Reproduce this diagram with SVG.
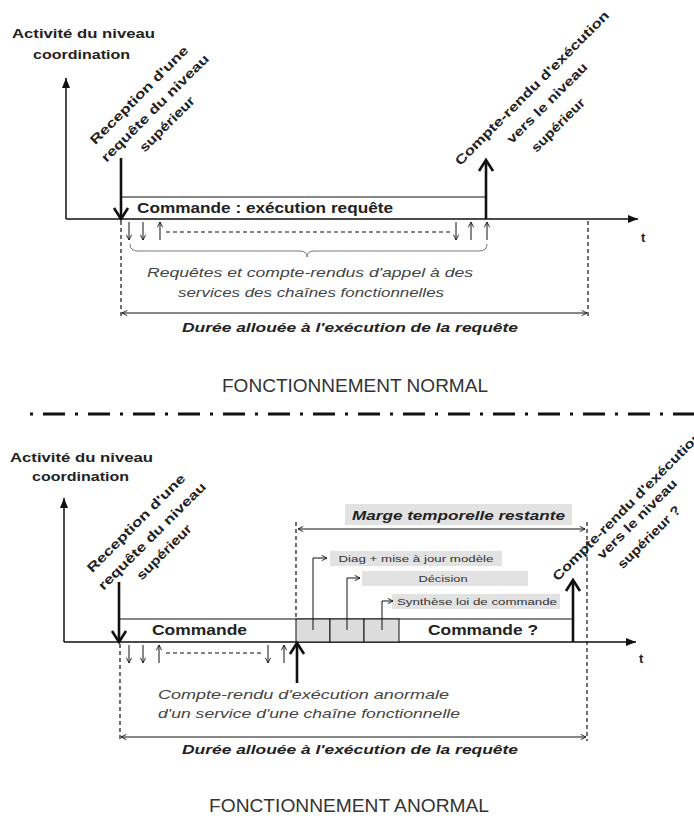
<svg xmlns="http://www.w3.org/2000/svg" width="694" height="816" viewBox="0 0 694 816">
<style>
text{font-family:"Liberation Sans",Arial,sans-serif;fill:#222}
.b{font-weight:bold;font-size:13px}
.cmd{font-weight:bold;font-size:14px}
.it{font-style:italic;font-size:13px;fill:#444}
.bi{font-style:italic;font-weight:bold;font-size:13px}
.title{font-size:18px;fill:#333}
.rot{font-weight:bold;font-size:13px;text-anchor:middle}
.sm{font-size:9px;text-anchor:middle;fill:#333}
.ax{stroke:#111;stroke-width:1.5;fill:none}
.thin{stroke:#111;stroke-width:1;fill:none}
.thick{stroke:#111;stroke-width:2.6;fill:none}
.dash{stroke:#111;stroke-width:1.2;stroke-dasharray:4 3;fill:none}
.box{stroke:#111;stroke-width:1;fill:none}
.cell{stroke:#111;stroke-width:1;fill:#dcdcdc}
.lblbox{fill:#e2e2e2}
</style>
<defs>
<marker id="axh" viewBox="0 0 10 8" refX="10" refY="4" markerWidth="10" markerHeight="8" markerUnits="userSpaceOnUse" orient="auto"><path d="M0,0 L10,4 L0,8 z" fill="#111"/></marker>
<marker id="sh" viewBox="0 0 8 8" refX="7" refY="4" markerWidth="7" markerHeight="7" markerUnits="userSpaceOnUse" orient="auto-start-reverse"><path d="M1,1 L7,4 L1,7" stroke="#111" stroke-width="1" fill="none"/></marker>
</defs>

<!-- ===== TOP: NORMAL ===== -->
<g id="top-axes">
<line class="ax" x1="66" y1="219" x2="66" y2="78" marker-end="url(#axh)"/>
<line class="ax" x1="66" y1="219" x2="638" y2="219" marker-end="url(#axh)"/>
<text class="b" x="641" y="242" font-size="11">t</text>
<text class="b" x="12" y="38" textLength="143" lengthAdjust="spacingAndGlyphs">Activité du niveau</text>
<text class="b" x="33" y="59" textLength="97" lengthAdjust="spacingAndGlyphs">coordination</text>
</g>

<g id="top-command">
<polyline class="box" points="121,197 486,197"/>
<text class="cmd" x="137" y="213" textLength="256" lengthAdjust="spacingAndGlyphs">Commande : exécution requête</text>
</g>

<g id="top-reception">
<line class="thick" x1="121" y1="158" x2="121" y2="217"/>
<path class="thick" d="M114,208 L121,219 L128,208"/>
<text class="rot" transform="translate(139,95) rotate(-45)" y="4.5" textLength="133" lengthAdjust="spacingAndGlyphs">Reception d'une</text>
<text class="rot" transform="translate(155,108) rotate(-45)" y="4.5" textLength="146" lengthAdjust="spacingAndGlyphs">requête du niveau</text>
<text class="rot" transform="translate(167,124) rotate(-45)" y="4.5" textLength="72" lengthAdjust="spacingAndGlyphs">supérieur</text>
</g>

<g id="top-report">
<line class="thick" x1="486" y1="219" x2="486" y2="162"/>
<path class="thick" d="M479,171 L486,160 L493,171"/>
<text class="rot" transform="translate(532,88) rotate(-45)" y="4.5" textLength="212" lengthAdjust="spacingAndGlyphs">Compte-rendu d'exécution</text>
<text class="rot" transform="translate(547,103) rotate(-45)" y="4.5" textLength="108" lengthAdjust="spacingAndGlyphs">vers le niveau</text>
<text class="rot" transform="translate(558,125) rotate(-45)" y="4.5" textLength="70" lengthAdjust="spacingAndGlyphs">supérieur</text>
</g>

<g id="top-calls">
<line class="thin" x1="129" y1="222" x2="129" y2="240" marker-end="url(#sh)"/>
<line class="thin" x1="143" y1="222" x2="143" y2="240" marker-end="url(#sh)"/>
<line class="thin" x1="160" y1="240" x2="160" y2="222" marker-end="url(#sh)"/>
<line class="dash" x1="166" y1="232" x2="450" y2="232" stroke-dasharray="3 2"/>
<line class="thin" x1="456" y1="222" x2="456" y2="240" marker-end="url(#sh)"/>
<line class="thin" x1="471" y1="240" x2="471" y2="222" marker-end="url(#sh)"/>
<line class="thin" x1="487" y1="240" x2="487" y2="222" marker-end="url(#sh)"/>
<path d="M130,244 Q130,251 138,251 L300,251 Q307,251 307,257 Q307,251 314,251 L479,251 Q487,251 487,244" stroke="#777" stroke-width="1" fill="none"/>
<text class="it" x="147" y="277" textLength="326" lengthAdjust="spacingAndGlyphs">Requêtes et compte-rendus d'appel à des</text>
<text class="it" x="178" y="297" textLength="266" lengthAdjust="spacingAndGlyphs">services des chaînes fonctionnelles</text>
</g>

<g id="top-duration">
<line class="dash" x1="121" y1="221" x2="121" y2="319"/>
<line class="dash" x1="588" y1="221" x2="588" y2="319"/>
<line class="thin" x1="122" y1="313" x2="587" y2="313" stroke-width="1.4" marker-start="url(#sh)" marker-end="url(#sh)"/>
<text class="bi" x="182" y="332" textLength="336" lengthAdjust="spacingAndGlyphs">Durée allouée à l'exécution de la requête</text>
</g>

<text id="title-normal" class="title" x="222" y="392" textLength="266" lengthAdjust="spacingAndGlyphs">FONCTIONNEMENT NORMAL</text>

<line id="separator" x1="30" y1="414" x2="694" y2="414" stroke="#111" stroke-width="3" stroke-dasharray="3 10 22 10"/>

<!-- ===== BOTTOM: ANORMAL ===== -->
<g id="bottom-axes">
<line class="ax" x1="64" y1="642" x2="64" y2="498" marker-end="url(#axh)"/>
<line class="ax" x1="64" y1="642" x2="636" y2="642" marker-end="url(#axh)"/>
<text class="b" x="639" y="663" font-size="11">t</text>
<text class="b" x="10" y="462" textLength="143" lengthAdjust="spacingAndGlyphs">Activité du niveau</text>
<text class="b" x="32" y="481" textLength="97" lengthAdjust="spacingAndGlyphs">coordination</text>
</g>

<g id="bottom-command">
<polyline class="box" points="120,619 573,619"/>
<rect class="cell" x="296" y="619" width="34" height="23"/>
<rect class="cell" x="330" y="619" width="34" height="23"/>
<rect class="cell" x="364" y="619" width="35" height="23"/>
<text class="cmd" x="152" y="635" textLength="95" lengthAdjust="spacingAndGlyphs">Commande</text>
<text class="cmd" x="428" y="635" textLength="110" lengthAdjust="spacingAndGlyphs">Commande ?</text>
</g>

<g id="bottom-reception">
<line class="thick" x1="119" y1="582" x2="119" y2="640"/>
<path class="thick" d="M112,631 L119,642 L126,631"/>
<text class="rot" transform="translate(136,523) rotate(-45)" y="4.5" textLength="133" lengthAdjust="spacingAndGlyphs">Reception d'une</text>
<text class="rot" transform="translate(152,536) rotate(-45)" y="4.5" textLength="146" lengthAdjust="spacingAndGlyphs">requête du niveau</text>
<text class="rot" transform="translate(164,552) rotate(-45)" y="4.5" textLength="72" lengthAdjust="spacingAndGlyphs">supérieur</text>
</g>

<g id="bottom-report">
<line class="thick" x1="573" y1="642" x2="573" y2="582"/>
<path class="thick" d="M566,591 L573,580 L580,591"/>
<text class="rot" transform="translate(627,506) rotate(-45)" y="4.5" textLength="205" lengthAdjust="spacingAndGlyphs">Compte-rendu d'exécution</text>
<text class="rot" transform="translate(637,519) rotate(-45)" y="4.5" textLength="107" lengthAdjust="spacingAndGlyphs">vers le niveau</text>
<text class="rot" transform="translate(649,537) rotate(-45)" y="4.5" textLength="83" lengthAdjust="spacingAndGlyphs">supérieur ?</text>
</g>

<g id="bottom-calls">
<line class="thin" x1="129" y1="645" x2="129" y2="663" marker-end="url(#sh)"/>
<line class="thin" x1="143" y1="645" x2="143" y2="663" marker-end="url(#sh)"/>
<line class="thin" x1="159" y1="663" x2="159" y2="645" marker-end="url(#sh)"/>
<line class="dash" x1="166" y1="653" x2="264" y2="653" stroke-dasharray="3 2"/>
<line class="thin" x1="268" y1="645" x2="268" y2="663" marker-end="url(#sh)"/>
<line class="thin" x1="284" y1="663" x2="284" y2="645" marker-end="url(#sh)"/>
</g>

<g id="abnormal-report">
<line class="thick" x1="297" y1="683" x2="297" y2="645"/>
<path class="thick" d="M290,654 L297,643 L304,654"/>
<text class="it" x="158" y="699" textLength="291" lengthAdjust="spacingAndGlyphs">Compte-rendu d'exécution anormale</text>
<text class="it" x="158" y="718" textLength="302" lengthAdjust="spacingAndGlyphs">d'un service d'une chaîne fonctionnelle</text>
</g>

<g id="margin">
<line class="dash" x1="296" y1="522" x2="296" y2="619"/>
<line class="dash" x1="587" y1="522" x2="587" y2="741"/>
<rect class="lblbox" x="345" y="504" width="227" height="21"/>
<text class="bi" x="352" y="520" font-size="14" textLength="213" lengthAdjust="spacingAndGlyphs">Marge temporelle restante</text>
<line class="thin" x1="298" y1="529" x2="585" y2="529" marker-start="url(#sh)" marker-end="url(#sh)"/>
</g>

<g id="step-diag">
<rect class="lblbox" x="330" y="551" width="172" height="15"/>
<text class="sm" x="416" y="562" textLength="155" lengthAdjust="spacingAndGlyphs">Diag + mise à jour modèle</text>
<path class="thin" d="M313,630 V558 H327" marker-end="url(#sh)"/>
</g>
<g id="step-decision">
<rect class="lblbox" x="362" y="571" width="166" height="15"/>
<text class="sm" x="443" y="582" textLength="49" lengthAdjust="spacingAndGlyphs">Décision</text>
<path class="thin" d="M347,630 V578 H360" marker-end="url(#sh)"/>
</g>
<g id="step-synthese">
<rect class="lblbox" x="392" y="594" width="168" height="15"/>
<text class="sm" x="477" y="605" textLength="160" lengthAdjust="spacingAndGlyphs">Synthèse loi de commande</text>
<path class="thin" d="M382,630 V601 H393" marker-end="url(#sh)"/>
</g>

<g id="bottom-duration">
<line class="dash" x1="120" y1="644" x2="120" y2="741"/>
<line class="thin" x1="121" y1="737" x2="586" y2="737" stroke-width="1.4" marker-start="url(#sh)" marker-end="url(#sh)"/>
<text class="bi" x="182" y="754" textLength="336" lengthAdjust="spacingAndGlyphs">Durée allouée à l'exécution de la requête</text>
</g>

<text id="title-abnormal" class="title" x="209" y="812" textLength="280" lengthAdjust="spacingAndGlyphs">FONCTIONNEMENT ANORMAL</text>
</svg>
